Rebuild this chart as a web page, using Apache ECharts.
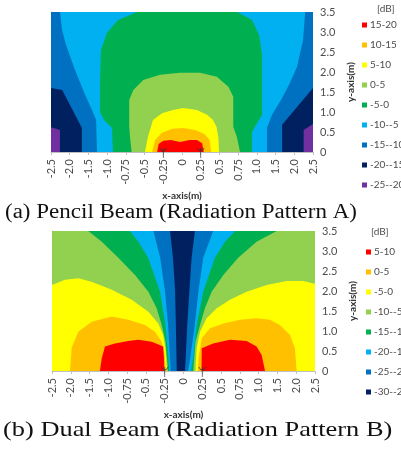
<!DOCTYPE html>
<html>
<head>
<meta charset="utf-8">
<script src="https://cdn.jsdelivr.net/npm/echarts@6/dist/echarts.min.js"></script>
<style>
  html, body { margin: 0; padding: 0; background: #fff; }
  #main { width: 401px; height: 450px; }
</style>
</head>
<body>
<div id="main"></div>
<script>
// x axis is a category-like scale: these positions are evenly spaced on the chart
const xTicks = [-2.5, -2.0, -1.5, -1.0, -0.75, -0.5, -0.25, 0, 0.25, 0.5, 0.75, 1.0, 1.5, 2.0, 2.5];
const xLabels = ['-2.5', '-2.0', '-1.5', '-1.0', '-0.75', '-0.5', '-0.25', '0', '0.25', '0.5', '0.75', '1.0', '1.5', '2.0', '2.5'];
const yLabels = ['0', '0.5', '1.0', '1.5', '2.0', '2.5', '3.0', '3.5'];
const antennaX = [-0.25, 0.25];

// (a) Pencil beam - outline of the area at or above each level, points are [x(m), y(m)]
const pencilBands = ['-25--20', '-20--15', '-15--10', '-10--5', '-5-0', '0-5', '5-10', '10-15', '15-20'];
const pencilColors = ['#7030A0', '#002060', '#0070C0', '#00B0F0', '#00B050', '#92D050', '#FFFF00', '#FFC000', '#FF0000'];
const pencilAboveM25 = [[[-2.5, 0], [-2.5, 3.5], [2.5, 3.5], [2.5, 0]]];
const pencilAboveM20 = [[[-2.5, 0.62], [-2.5, 3.5], [2.5, 3.5], [2.5, 0.7], [2.25, 0.55], [2.25, 0], [-2.26, 0], [-2.26, 0.55]]];
const pencilAboveM15 = [[[-2.5, 1.6], [-2.5, 3.5], [2.5, 3.5], [2.5, 1.6], [1.675, 0.68], [1.675, 0], [-1.675, 0], [-1.675, 0.6], [-2.2, 1.55]]];
const pencilAboveM10 = [[[-2.26, 3.5], [-2.205, 3.05], [-2.1, 2.68], [-1.86, 2.05], [-1.59, 1.43], [-1.405, 1.05], [-1.295, 0.8], [-1.27, 0],
  [1.27, 0], [1.27, 0.6], [1.405, 0.93], [1.645, 1.3], [1.86, 1.68], [2.075, 2.13], [2.235, 2.8], [2.29, 3.5]]];
const pencilAboveM5 = [[[-0.6, 3.5], [-0.855, 3.3], [-1.005, 2.98], [-1.165, 2.55], [-1.19, 1.8], [-1.19, 1.0], [-1.085, 0.8], [-0.935, 0.6], [-0.9225, 0],
  [0.935, 0], [0.935, 0.5], [0.99, 0.68], [1.14, 0.93], [1.14, 2.43], [1.06, 2.93], [0.935, 3.3], [0.735, 3.5]]];
const pencilAbove0 = [[[-0.6725, 0], [-0.695, 0.38], [-0.705, 0.63], [-0.705, 1.3], [-0.65, 1.55], [-0.5175, 1.8], [-0.2925, 1.93], [-0.0275, 1.98],
  [0.24, 1.98], [0.465, 1.88], [0.62, 1.63], [0.685, 1.38], [0.685, 0.63], [0.7325, 0.38], [0.775, 0]]];
const pencilAbove5 = [[[-0.495, 0], [-0.455, 0.38], [-0.3875, 0.8], [-0.2675, 0.97], [-0.12, 1.05], [0.0125, 1.1], [0.2, 1.05], [0.335, 0.93],
  [0.415, 0.8], [0.46, 0.63], [0.485, 0.38], [0.495, 0]]];
const pencilAbove10 = [[[-0.4, 0], [-0.36, 0.3], [-0.2675, 0.48], [-0.1325, 0.58], [0.0125, 0.6], [0.175, 0.55], [0.3, 0.45], [0.37, 0.3], [0.39, 0]]];
const pencilAbove15 = [[[-0.3325, 0], [-0.3125, 0.2], [-0.25, 0.28], [-0.15, 0.3], [-0.025, 0.25], [0.1, 0.3], [0.2, 0.3], [0.27, 0.22], [0.29, 0]]];

// (b) Dual beam - same idea, two lobes per level (left, right)
const dualBands = ['-30--25', '-25--20', '-20--15', '-15--10', '-10--5', '-5-0', '0-5', '5-10'];
const dualColors = ['#002060', '#0070C0', '#00B0F0', '#00B050', '#92D050', '#FFFF00', '#FFC000', '#FF0000'];
const dualAboveM30 = [[[-2.5, 0], [-2.5, 3.5], [2.5, 3.5], [2.5, 0]]];
const dualAboveM25 = [
  [[-2.5, 0], [-2.5, 3.5], [-0.18, 3.5], [-0.14, 2.83], [-0.1125, 2.03], [-0.1, 1.03], [-0.09, 0]],
  [[0.02, 0], [0.05, 1.15], [0.0775, 1.98], [0.1075, 2.83], [0.1525, 3.5], [2.5, 3.5], [2.5, 0]]
];
const dualAboveM20 = [
  [[-2.5, 0], [-2.5, 3.5], [-0.4, 3.5], [-0.31, 2.83], [-0.245, 1.98], [-0.205, 1.15], [-0.18, 0.33], [-0.17, 0]],
  [[0.06, 0], [0.09, 0.33], [0.15, 1.15], [0.1975, 1.98], [0.2625, 2.83], [0.395, 3.5], [2.5, 3.5], [2.5, 0]]
];
const dualAboveM15 = [
  [[-2.5, 0], [-2.5, 3.5], [-0.7125, 3.5], [-0.6, 3.23], [-0.47, 2.83], [-0.3125, 1.98], [-0.24, 1.15], [-0.2, 0.33], [-0.19, 0]],
  [[0.1, 0], [0.13, 0.33], [0.175, 1.15], [0.2625, 1.98], [0.4175, 2.83], [0.5525, 3.23], [0.685, 3.5], [2.5, 3.5], [2.5, 0]]
];
const dualAboveM10 = [
  [[-2.5, 0], [-2.5, 3.5], [-1.535, 3.5], [-1.175, 3.23], [-0.8675, 2.83], [-0.645, 2.4], [-0.4675, 1.98], [-0.3575, 1.57], [-0.29, 1.15], [-0.24, 0.73], [-0.205, 0]],
  [[0.13, 0], [0.16, 0.73], [0.22, 1.15], [0.285, 1.57], [0.375, 1.98], [0.53, 2.4], [0.7275, 2.83], [0.9725, 3.23], [1.48, 3.5], [2.5, 3.5], [2.5, 0]]
];
const dualAboveM5 = [
  [[-2.5, 0], [-2.5, 2.15], [-2.155, 2.28], [-1.8, 2.32], [-1.445, 2.23], [-0.955, 2.03], [-0.69, 1.78], [-0.4675, 1.48], [-0.335, 1.19], [-0.27, 0.9], [-0.235, 0.48], [-0.22, 0]],
  [[0.16, 0], [0.175, 0.57], [0.22, 0.98], [0.3075, 1.32], [0.4425, 1.57], [0.6175, 1.78], [0.84, 1.98], [1.215, 2.15], [1.745, 2.25], [2.185, 2.25], [2.5, 2.18], [2.5, 0]]
];
const dualAbove0 = [
  [[-2.02, 0], [-1.975, 0.58], [-1.8, 0.98], [-1.445, 1.23], [-0.955, 1.36], [-0.735, 1.28], [-0.5125, 1.15], [-0.38, 0.98], [-0.29, 0.73], [-0.25, 0.4], [-0.235, 0]],
  [[0.19, 0], [0.2, 0.32], [0.2425, 0.82], [0.3525, 1.07], [0.53, 1.19], [0.7525, 1.28], [0.9725, 1.32], [1.3, 1.28], [1.565, 1.15], [1.835, 0.9], [1.965, 0.57], [2.01, 0]]
];
const dualAbove5 = [
  [[-1.225, 0], [-1.175, 0.32], [-1.09, 0.61], [-0.9125, 0.69], [-0.735, 0.75], [-0.6025, 0.78], [-0.4225, 0.73], [-0.27, 0.61], [-0.26, 0.32], [-0.255, 0]],
  [[0.24, 0], [0.2425, 0.57], [0.395, 0.69], [0.6175, 0.78], [0.84, 0.75], [0.9725, 0.61], [1.08, 0.4], [1.17, 0]]
];

const pencilRegions = [pencilAboveM25, pencilAboveM20, pencilAboveM15, pencilAboveM10, pencilAboveM5, pencilAbove0, pencilAbove5, pencilAbove10, pencilAbove15];
const dualRegions = [dualAboveM30, dualAboveM25, dualAboveM20, dualAboveM15, dualAboveM10, dualAboveM5, dualAbove0, dualAbove5];

// metres -> position on the evenly spaced x axis
function toPos(m) {
    for (let i = 0; i < xTicks.length - 1; i++) {
        if (m <= xTicks[i + 1] || i === xTicks.length - 2) {
            return i + (m - xTicks[i]) / (xTicks[i + 1] - xTicks[i]);
        }
    }
    return 0;
}

const labelFont = 'Lato';
const labelColor = '#4d4d4d';

function makeAxes(gridIndex) {
    const xAxis = {
        gridIndex: gridIndex, type: 'value', min: 0, max: 14, interval: 1,
        name: 'x-axis(m)', nameLocation: 'middle', nameGap: 39,
        nameTextStyle: { fontFamily: labelFont, fontWeight: 'bold', fontSize: 10, color: '#333' },
        axisLine: { show: true, lineStyle: { color: '#bfbfbf' } },
        axisTick: { show: true, length: 3, lineStyle: { color: '#bfbfbf' } },
        axisLabel: {
            rotate: 90, margin: 7, fontFamily: labelFont, fontSize: 11, color: labelColor,
            formatter: function (v) { return xLabels[Math.round(v)]; }
        },
        splitLine: { show: false }
    };
    const yAxis = {
        gridIndex: gridIndex, type: 'value', position: 'right', min: 0, max: 3.5, interval: 0.5,
        name: 'y-axis(m)', nameLocation: 'middle', nameRotate: 90, nameGap: 29,
        nameTextStyle: { fontFamily: labelFont, fontWeight: 'bold', fontSize: 10, color: '#333' },
        axisLine: { show: true, lineStyle: { color: '#bfbfbf' } },
        axisTick: { show: true, length: 3, lineStyle: { color: '#bfbfbf' } },
        axisLabel: {
            margin: 7, fontFamily: labelFont, fontSize: 11, color: labelColor,
            formatter: function (v) { return yLabels[Math.round(v / 0.5)]; }
        },
        splitLine: { show: false }
    };
    return [xAxis, yAxis];
}

function regionSeries(prefix, gridIndex, bands, colors, regions) {
    return bands.map(function (band, i) {
        const polys = regions[i];
        return {
            type: 'custom',
            name: prefix + '|' + band,
            xAxisIndex: gridIndex,
            yAxisIndex: gridIndex,
            silent: true,
            itemStyle: { color: colors[i] },
            data: polys.map(function (p, k) { return [k, 0]; }),
            renderItem: function (params, api) {
                const poly = polys[params.dataIndex];
                const points = poly.map(function (pt) { return api.coord([toPos(pt[0]), pt[1]]); });
                return { type: 'polygon', shape: { points: points }, style: { fill: colors[i] } };
            }
        };
    });
}

function antennaSeries(gridIndex) {
    return {
        type: 'scatter',
        xAxisIndex: gridIndex,
        yAxisIndex: gridIndex,
        silent: true,
        z: 5,
        symbol: 'path://M0,0 Q4,7 8,0 M4,0 L4,11',
        symbolSize: [7, 10],
        symbolOffset: [0, 1],
        itemStyle: { color: 'rgba(0,0,0,0)', borderColor: '#333', borderWidth: 1 },
        data: antennaX.map(function (m) { return [toPos(m), 0]; })
    };
}

function makeLegend(prefix, bands, left, top) {
    return {
        orient: 'vertical', left: left, top: top, padding: 0,
        itemWidth: 5, itemHeight: 5, itemGap: 8, icon: 'rect',
        selectedMode: false,
        textStyle: { fontFamily: labelFont, fontSize: 10, color: labelColor, lineHeight: 12, padding: [0, 0, 0, -2] },
        formatter: function (name) { return name.split('|')[1]; },
        data: bands.slice().reverse().map(function (b) { return prefix + '|' + b; })
    };
}

const chart = echarts.init(document.getElementById('main'));
const axesA = makeAxes(0);
const axesB = makeAxes(1);

const option = {
    animation: false,
    backgroundColor: '#fff',
    grid: [
        { left: 51, top: 12, width: 262, height: 140 },
        { left: 52, top: 231, width: 263, height: 140 }
    ],
    xAxis: [axesA[0], axesB[0]],
    yAxis: [axesA[1], axesB[1]],
    legend: [
        makeLegend('A', pencilBands, 362, 19),
        makeLegend('B', dualBands, 366, 246)
    ],
    graphic: [
        { type: 'text', left: 377, top: 4, style: { text: '[dB]', font: '10px Lato', fill: labelColor } },
        { type: 'text', left: 371, top: 227, style: { text: '[dB]', font: '10px Lato', fill: labelColor } },
        { type: 'text', x: 5, y: 213, scaleX: 1.15, style: { text: '(a) Pencil Beam (Radiation Pattern A)', font: '20px "Liberation Serif"', fill: '#111', verticalAlign: 'middle' } },
        { type: 'text', x: 3, y: 430, scaleX: 1.2, style: { text: '(b) Dual Beam (Radiation Pattern B)', font: '22px "Liberation Serif"', fill: '#111', verticalAlign: 'middle' } }
    ],
    series: []
        .concat(regionSeries('A', 0, pencilBands, pencilColors, pencilRegions))
        .concat([antennaSeries(0)])
        .concat(regionSeries('B', 1, dualBands, dualColors, dualRegions))
        .concat([antennaSeries(1)])
};

chart.setOption(option);
</script>
</body>
</html>
